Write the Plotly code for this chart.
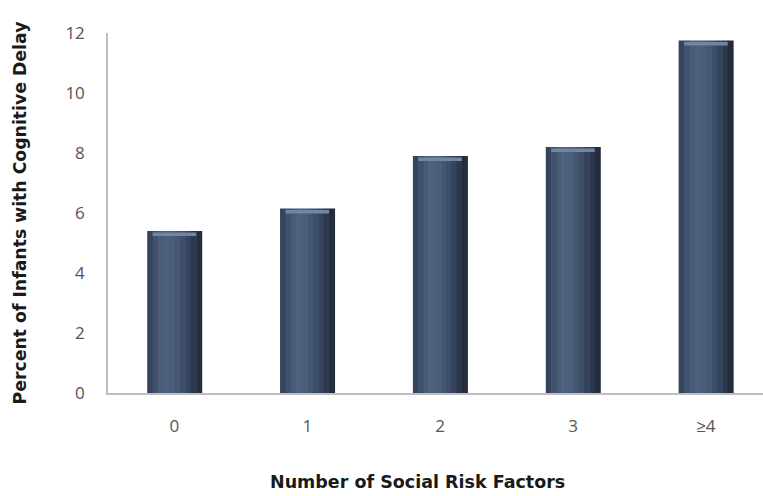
import plotly.graph_objects as go

categories = ["0", "1", "2", "3", "≥4"]
values = [5.4, 6.15, 7.9, 8.2, 11.75]
y_ticks = [0, 2, 4, 6, 8, 10, 12]

x_title = "Number of Social Risk Factors"
y_title = "Percent of Infants with Cognitive Delay"

# horizontal shading profile for a cylindrical look (left -> right)
strip_colors = ["#34445c", "#3f516b", "#485b77", "#4c617d", "#4a5e7a",
                "#445773", "#3d4f68", "#35445c", "#2c384c", "#232d3c"]

bar_w = 0.41
n = len(strip_colors)
fig = go.Figure()
for k, c in enumerate(strip_colors):
    fig.add_trace(go.Bar(
        x=categories, y=values,
        width=bar_w / n + 0.004, offset=-bar_w / 2 + k * bar_w / n,
        marker=dict(color=c, line=dict(width=0)),
        showlegend=False, hoverinfo="skip"))

# light top cap
cap_h = 0.12
fig.add_trace(go.Bar(
    x=categories, y=[cap_h] * len(values), base=[v - cap_h - 0.05 for v in values],
    width=bar_w * 0.8, offset=-bar_w * 0.4,
    marker=dict(color="#7086a3", line=dict(width=0)),
    showlegend=False, hoverinfo="skip"))

fig.update_layout(
    width=763, height=496,
    margin=dict(l=108, r=0, t=33, b=103),
    paper_bgcolor="white", plot_bgcolor="white",
    barmode="overlay",
    font=dict(family="Open Sans", size=17, color="#555555"),
    annotations=[dict(
        text=x_title, xref="paper", yref="paper", x=0.473, y=-0.247,
        xanchor="center", yanchor="middle", showarrow=False,
        font=dict(family="DejaVu Sans", size=17.5, color="#1a1a1a", weight="bold"))],
)
fig.update_xaxes(
    type="category", range=[-0.5, 4.43],
    showline=True, linecolor="#bfbfbf", linewidth=1.5,
    showgrid=False, ticks="", ticklabelstandoff=17,
    tickfont=dict(family="Open Sans", size=17, color="#555555"),
)
fig.update_yaxes(
    range=[0, 12], tickvals=y_ticks,
    showline=True, linecolor="#bfbfbf", linewidth=1.5,
    showgrid=False, zeroline=False, ticks="", ticklabelstandoff=18,
    tickfont=dict(family="Open Sans", size=17, color="#555555"),
    title=dict(text=y_title, standoff=34,
               font=dict(family="DejaVu Sans", size=17.3, color="#1a1a1a", weight="bold")),
)

fig.write_html("out.html")
